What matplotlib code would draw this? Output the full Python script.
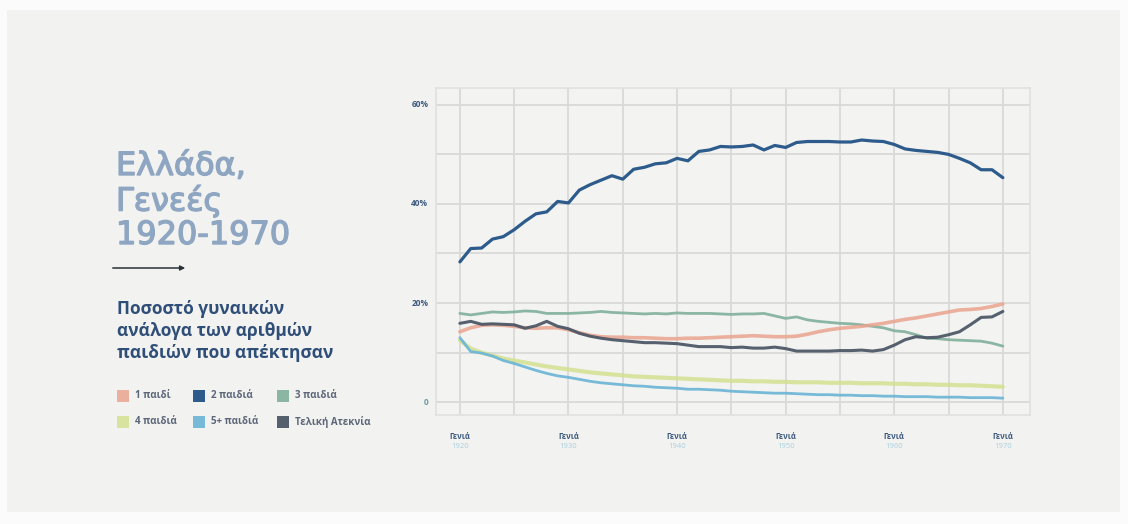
import matplotlib
matplotlib.use("Agg")
import matplotlib.pyplot as plt
import matplotlib.patheffects as pe
from matplotlib.patches import Rectangle, FancyArrowPatch
import numpy as np

plt.rcParams['font.family'] = ['Open Sans', 'Noto Sans', 'DejaVu Sans']

years = list(range(1920, 1971))

one_child = [14.2, 15.0, 15.5, 15.6, 15.5, 15.3, 15.0, 14.9, 15.0, 15.0,
             14.6, 14.0, 13.5, 13.2, 13.1, 13.1, 13.0, 13.0, 12.9, 12.8,
             12.8, 12.9, 12.9, 13.0, 13.1, 13.2, 13.3, 13.4, 13.3, 13.2,
             13.2, 13.3, 13.7, 14.2, 14.6, 14.9, 15.1, 15.3, 15.6, 15.9,
             16.3, 16.7, 17.0, 17.4, 17.8, 18.2, 18.6, 18.7, 18.9, 19.3, 19.8]
two_children = [28.3, 31.0, 31.1, 32.9, 33.4, 34.8, 36.5, 38.0, 38.4, 40.5,
                40.2, 42.8, 43.9, 44.8, 45.7, 45.0, 47.0, 47.4, 48.1, 48.3,
                49.2, 48.7, 50.6, 50.9, 51.6, 51.5, 51.6, 51.9, 50.9, 51.8,
                51.4, 52.4, 52.6, 52.6, 52.6, 52.5, 52.5, 52.9, 52.7, 52.6,
                52.0, 51.1, 50.8, 50.6, 50.4, 50.0, 49.2, 48.3, 46.9, 46.9, 45.3]
three_children = [17.9, 17.6, 17.9, 18.2, 18.1, 18.2, 18.4, 18.3, 17.9, 17.9,
                  17.9, 18.0, 18.1, 18.3, 18.1, 18.0, 17.9, 17.8, 17.9, 17.8,
                  18.0, 17.9, 17.9, 17.9, 17.8, 17.7, 17.8, 17.8, 17.9, 17.4,
                  16.9, 17.2, 16.6, 16.3, 16.1, 15.9, 15.8, 15.6, 15.3, 15.0,
                  14.4, 14.2, 13.6, 12.9, 12.8, 12.6, 12.5, 12.4, 12.3, 11.9, 11.3]
four_children = [12.5, 10.8, 10.0, 9.4, 8.8, 8.4, 8.0, 7.6, 7.2, 6.9,
                 6.6, 6.3, 6.0, 5.8, 5.6, 5.4, 5.2, 5.1, 5.0, 4.9,
                 4.8, 4.7, 4.6, 4.5, 4.4, 4.3, 4.3, 4.2, 4.2, 4.1,
                 4.1, 4.0, 4.0, 4.0, 3.9, 3.9, 3.9, 3.8, 3.8, 3.8,
                 3.7, 3.7, 3.6, 3.6, 3.5, 3.5, 3.4, 3.4, 3.3, 3.2, 3.1]
five_plus = [13.0, 10.2, 9.9, 9.3, 8.4, 7.8, 7.1, 6.4, 5.8, 5.3,
             5.0, 4.6, 4.2, 3.9, 3.7, 3.5, 3.3, 3.2, 3.0, 2.9,
             2.8, 2.6, 2.6, 2.5, 2.4, 2.2, 2.1, 2.0, 1.9, 1.8,
             1.8, 1.7, 1.6, 1.5, 1.5, 1.4, 1.4, 1.3, 1.3, 1.2,
             1.2, 1.1, 1.1, 1.1, 1.0, 1.0, 1.0, 0.9, 0.9, 0.9, 0.8]
childless = [15.9, 16.3, 15.7, 15.8, 15.7, 15.6, 14.9, 15.4, 16.3, 15.3,
             14.8, 13.9, 13.3, 12.9, 12.6, 12.4, 12.2, 12.0, 12.0, 11.9,
             11.8, 11.5, 11.2, 11.2, 11.2, 11.0, 11.1, 10.9, 10.9, 11.1,
             10.8, 10.3, 10.3, 10.3, 10.3, 10.4, 10.4, 10.5, 10.3, 10.6,
             11.5, 12.6, 13.2, 13.0, 13.1, 13.6, 14.2, 15.6, 17.1, 17.2, 18.3]

series_labels = ["1 παιδί", "2 παιδιά", "3 παιδιά", "4 παιδιά", "5+ παιδιά", "Τελική Ατεκνία"]
series_values = [one_child, two_children, three_children, four_children, five_plus, childless]
series_colors = ["#e9a48f", "#2c5b8c", "#86b3a0", "#d3e08c", "#6fb7d6", "#4d5867"]
series_alpha = [0.85, 1.0, 0.95, 0.8, 0.95, 0.95]
series_lw = [2.6, 2.3, 2.0, 3.0, 2.0, 2.2]

xtick_years = [1920, 1930, 1940, 1950, 1960, 1970]
xtick_top = "Γενιά"
ytick_vals = [0, 20, 40, 60]
ytick_labels = ["0", "20%", "40%", "60%"]

title_text = "Ελλάδα,\nΓενεές\n1920-1970"
subtitle_text = "Ποσοστό γυναικών\nανάλογα των αριθμών\nπαιδιών που απέκτησαν"

W, H = 1128, 524
fig = plt.figure(figsize=(W / 100, H / 100), dpi=100)
fig.patch.set_facecolor("#fbfbfb")

bg = fig.add_axes([0, 0, 1, 1], zorder=-5)
bg.set_xlim(0, W)
bg.set_ylim(H, 0)
bg.axis("off")
bg.add_patch(Rectangle((7, 10), 1120 - 7, 512 - 10, facecolor="#f2f2f0",
                       edgecolor="none"))
# arrow
bg.add_patch(FancyArrowPatch((110, 268), (188, 268), arrowstyle="-|>",
                             mutation_scale=7, color="#2b2f36", lw=1.1))

ax = fig.add_axes([436 / W, 1 - 415 / H, (1030 - 436) / W, (415 - 88) / H], zorder=1)
ax.set_facecolor("#f3f3f1")
ax.set_xlim(1917.8, 1972.5)
ax.set_ylim(-2.6, 63.4)

grid_c = "#d9d9d8"
for xv in range(1920, 1971, 5):
    ax.axvline(xv, color=grid_c, lw=1.3, zorder=1)
for yv in range(0, 61, 10):
    ax.axhline(yv, color=grid_c, lw=1.3, zorder=1)
for s in ax.spines.values():
    s.set_color("#e0e0df")
    s.set_linewidth(1.2)
ax.set_xticks([])
ax.set_yticks([])

order = [3, 4, 2, 0, 5, 1]
for i in order:
    ax.plot(years, series_values[i], color=series_colors[i], lw=series_lw[i],
            alpha=series_alpha[i], solid_capstyle="round", zorder=3)

# y tick labels
for v, lab in zip(ytick_vals, ytick_labels):
    col = "#6a9aa8" if lab == "0" else "#3d5a80"
    ax.text(-0.013, (v + 2.6) / 66.0, lab, transform=ax.transAxes, ha="right",
            va="center", fontsize=6, fontweight="bold", color=col)

# x tick labels
for yv in xtick_years:
    xf = (yv - 1917.8) / (1972.5 - 1917.8)
    ax.text(xf, -0.066, xtick_top, transform=ax.transAxes, ha="center",
            va="center", fontsize=5.5, fontweight="bold", color="#3d5a80")
    ax.text(xf, -0.095, str(yv), transform=ax.transAxes, ha="center",
            va="center", fontsize=5.5, color="#a8d0de")

# title
title_color = "#8ea6c2"
fig.text(116 / W, 1 - 201 / H, title_text, ha="left", va="center",
         fontsize=23, family=["DejaVu Sans"], color=title_color, linespacing=1.1,
         path_effects=[pe.Stroke(linewidth=1.0, foreground=title_color), pe.Normal()])
# subtitle
fig.text(117 / W, 1 - 331 / H, subtitle_text, ha="left", va="center",
         fontsize=12.5, fontweight="bold", color="#2f4e78", linespacing=1.3)

# legend
leg_x = [117, 193, 277]
leg_y = [396, 422]
for k, lab in enumerate(series_labels):
    r, c = divmod(k, 3)
    x0, y0 = leg_x[c], leg_y[r]
    bg.add_patch(Rectangle((x0, y0 - 6), 12, 12, facecolor=series_colors[k],
                           edgecolor="none", alpha=series_alpha[k]))
    fig.text((x0 + 18) / W, 1 - y0 / H, lab, ha="left", va="center",
             fontsize=7, fontweight="bold", color="#5b6678")

fig.savefig("out.png", dpi=100, facecolor=fig.get_facecolor())
